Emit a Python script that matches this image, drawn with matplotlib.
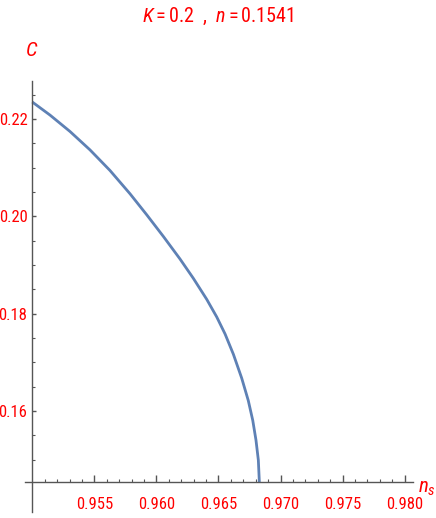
import matplotlib
matplotlib.use('Agg')
import matplotlib.pyplot as plt
from matplotlib import font_manager

# curve (n_s, C)
ns = [0.95000, 0.95143, 0.95304, 0.95465, 0.95626, 0.95788, 0.95922, 0.96056, 0.96190,
      0.96297, 0.96405, 0.96486, 0.96553, 0.96620, 0.96687, 0.96740, 0.96776, 0.96802,
      0.96821, 0.96829]
C = [0.22349, 0.22080, 0.21743, 0.21365, 0.20942, 0.20461, 0.20031, 0.19586, 0.19123,
     0.18727, 0.18295, 0.17931, 0.17582, 0.17165, 0.16674, 0.16214, 0.15807, 0.15400,
     0.14989, 0.14540]

xticks = [0.955, 0.960, 0.965, 0.970, 0.975, 0.980]
yticks = [0.16, 0.18, 0.20, 0.22]

names = set(f.name for f in font_manager.fontManager.ttflist)
fam = 'Liberation Sans'
for cand in ['Liberation Sans Narrow', 'Arial Narrow', 'Roboto Condensed', 'Archivo Narrow']:
    if cand in names:
        fam = cand
        break
plt.rcParams['font.family'] = [fam, 'DejaVu Sans']
plt.rcParams['mathtext.fontset'] = 'custom'
plt.rcParams['mathtext.rm'] = fam
plt.rcParams['mathtext.it'] = fam + ':italic'

red = '#ff0000'
axcol = '#555555'

fig = plt.figure(figsize=(4.36, 5.18), dpi=100)
ax = fig.add_axes([0.0569, 0.0112, 0.8913, 0.8324])
ax.plot(ns, C, color='#5e81b5', lw=2, solid_capstyle='butt', solid_joinstyle='round')

ax.set_xlim(0.9494, 0.9807)
ax.set_ylim(0.1392, 0.2278)

for s in ['top', 'right']:
    ax.spines[s].set_visible(False)
ax.spines['left'].set_position(('data', 0.95))
ax.spines['bottom'].set_position(('data', 0.1454))
for s in ['left', 'bottom']:
    ax.spines[s].set_color(axcol)
    ax.spines[s].set_linewidth(1)

ax.set_xticks(xticks)
ax.set_xticklabels(['%.3f' % v for v in xticks])
ax.set_yticks(yticks)
ax.set_yticklabels(['%.2f' % v for v in yticks])
xminor = [round(0.950 + 0.001 * i, 3) for i in range(1, 31) if i % 5 != 0]
yminor = [round(0.150 + 0.005 * i, 3) for i in range(0, 16) if i % 4 != 2]
ax.set_xticks(xminor, minor=True)
ax.set_yticks(yminor, minor=True)

ax.tick_params(axis='x', which='major', direction='in', length=5, width=1,
               color=axcol, labelcolor=red, labelsize=12, pad=11)
ax.tick_params(axis='x', which='minor', direction='in', length=2.5, width=0.8, color=axcol)
ax.tick_params(axis='y', which='major', direction='in', length=3, width=1,
               color=axcol, labelcolor=red, labelsize=12, pad=3.5)
ax.tick_params(axis='y', which='minor', direction='in', length=1.8, width=0.8, color=axcol)

fig.text(0.5, 1 - 16 / 518, r'$K = 0.2$  ,  $n = 0.1541$', color=red, fontsize=14.5,
         ha='center', va='center')
fig.text(32 / 436, 1 - 50 / 518, r'$C$', color=red, fontsize=15, ha='center', va='center')
fig.text(427 / 436, 1 - 488 / 518, r'$n_s$', color=red, fontsize=15, ha='center', va='center')

fig.savefig('out.png', dpi=100)
